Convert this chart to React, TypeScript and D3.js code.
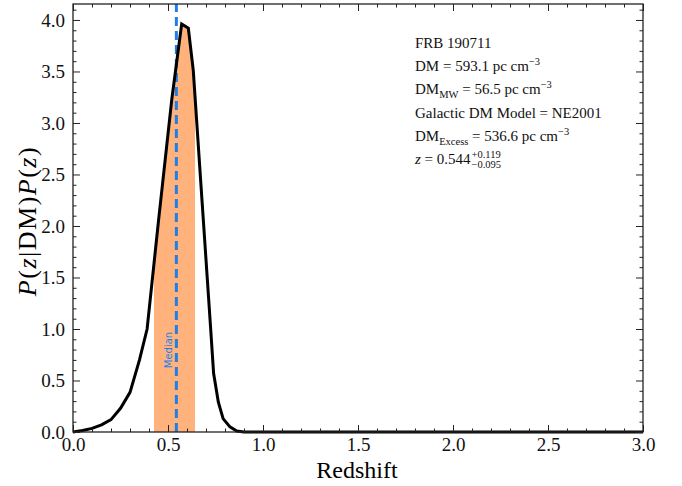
import React, { useEffect, useRef } from 'react';
import * as d3 from 'd3';

// Redshift grid and P(z|DM)P(z) values
const redshift = [0, 0.05, 0.1, 0.15, 0.2, 0.25, 0.3, 0.35, 0.39, 0.45, 0.52, 0.572, 0.607, 0.633, 0.68, 0.725, 0.74, 0.765, 0.79, 0.826, 0.862, 0.9, 1.0, 1.5, 2.0, 2.5, 3.0];
const density = [0, 0.015, 0.035, 0.07, 0.12, 0.23, 0.385, 0.7, 1.0, 2.05, 3.23, 3.96, 3.92, 3.51, 2.22, 0.99, 0.57, 0.29, 0.13, 0.05, 0.01, 0, 0, 0, 0, 0, 0];

const xTicks = [0, 0.5, 1.0, 1.5, 2.0, 2.5, 3.0];
const yTicks = [0, 0.5, 1.0, 1.5, 2.0, 2.5, 3.0, 3.5, 4.0];

const zMedian = 0.544;
const zLow = 0.426;
const zHigh = 0.642;

const SERIF = '"Liberation Serif", "DejaVu Serif", serif';

export default function App() {
  const svgRef = useRef(null);

  useEffect(() => {
    const svg = d3.select(svgRef.current);
    svg.selectAll('*').remove();

    const left = 73, right = 643, top = 4, bottom = 432;
    const x = d3.scaleLinear().domain([0, 3]).range([left, right]);
    const y = d3.scaleLinear().domain([0, 4.155]).range([bottom, top]);

    const pts = redshift.map((z, i) => [z, density[i]]);

    // shaded band under the curve
    svg.append('clipPath').attr('id', 'band')
      .append('rect')
      .attr('x', x(zLow)).attr('y', top)
      .attr('width', x(zHigh) - x(zLow)).attr('height', bottom - top);

    const area = d3.area().x(d => x(d[0])).y0(y(0)).y1(d => y(d[1]));
    svg.append('path')
      .datum(pts)
      .attr('d', area)
      .attr('clip-path', 'url(#band)')
      .attr('fill', '#ffb27c');

    // median
    svg.append('line')
      .attr('x1', x(zMedian)).attr('x2', x(zMedian))
      .attr('y1', bottom).attr('y2', top)
      .attr('stroke', '#1f7fe6')
      .attr('stroke-width', 3)
      .attr('stroke-dasharray', '9,5');

    svg.append('text')
      .attr('transform', `translate(${x(zMedian) - 4},350) rotate(-90)`)
      .attr('text-anchor', 'middle')
      .attr('font-family', '"DejaVu Sans", sans-serif')
      .attr('font-size', 10)
      .attr('fill', '#1f7fe6')
      .text('Median');

    // curve
    const line = d3.line().x(d => x(d[0])).y(d => y(d[1]));
    svg.append('path')
      .datum(pts)
      .attr('d', line)
      .attr('fill', 'none')
      .attr('stroke', 'black')
      .attr('stroke-width', 3)
      .attr('stroke-linejoin', 'miter');

    // axes with inward ticks on all sides
    const minorX = d3.range(0, 3.001, 0.1).filter(v => Math.abs(v * 2 - Math.round(v * 2)) > 1e-6);
    const minorY = d3.range(0, 4.101, 0.1).filter(v => Math.abs(v * 2 - Math.round(v * 2)) > 1e-6);

    const styleAxis = g => {
      g.select('.domain').remove();
      g.selectAll('line').attr('stroke', '#222').attr('stroke-width', 1);
      g.selectAll('text').attr('font-family', SERIF).attr('font-size', 19).attr('fill', '#111');
    };

    svg.append('g').attr('transform', `translate(0,${bottom})`)
      .call(d3.axisBottom(x).tickValues(xTicks).tickSize(-7).tickPadding(6).tickFormat(d3.format('.1f')))
      .call(styleAxis);
    svg.append('g').attr('transform', `translate(0,${bottom})`)
      .call(d3.axisBottom(x).tickValues(minorX).tickSize(-3.5).tickFormat(''))
      .call(styleAxis);
    svg.append('g').attr('transform', `translate(0,${top})`)
      .call(d3.axisTop(x).tickValues(xTicks).tickSize(-7).tickFormat(''))
      .call(styleAxis);
    svg.append('g').attr('transform', `translate(0,${top})`)
      .call(d3.axisTop(x).tickValues(minorX).tickSize(-3.5).tickFormat(''))
      .call(styleAxis);

    svg.append('g').attr('transform', `translate(${left},0)`)
      .call(d3.axisLeft(y).tickValues(yTicks).tickSize(-7).tickPadding(8).tickFormat(d3.format('.1f')))
      .call(styleAxis);
    svg.append('g').attr('transform', `translate(${left},0)`)
      .call(d3.axisLeft(y).tickValues(minorY).tickSize(-3.5).tickFormat(''))
      .call(styleAxis);
    svg.append('g').attr('transform', `translate(${right},0)`)
      .call(d3.axisRight(y).tickValues(yTicks).tickSize(-7).tickFormat(''))
      .call(styleAxis);
    svg.append('g').attr('transform', `translate(${right},0)`)
      .call(d3.axisRight(y).tickValues(minorY).tickSize(-3.5).tickFormat(''))
      .call(styleAxis);

    svg.append('rect')
      .attr('x', left).attr('y', top)
      .attr('width', right - left).attr('height', bottom - top)
      .attr('fill', 'none')
      .attr('stroke', '#222')
      .attr('stroke-width', 1.3);

    // axis labels
    svg.append('text')
      .attr('x', (left + right) / 2 - 1).attr('y', 478)
      .attr('text-anchor', 'middle')
      .attr('font-family', SERIF).attr('font-size', 24)
      .text('Redshift');

    const yl = svg.append('text')
      .attr('transform', 'translate(36,221) rotate(-90)')
      .attr('text-anchor', 'middle')
      .attr('font-family', SERIF).attr('font-size', 26)
      .attr('letter-spacing', 1.5);
    [['P', true], ['(', false], ['z', true], ['|DM)', false], ['P', true], ['(', false], ['z', true], [')', false]]
      .forEach(([t, it]) => yl.append('tspan').attr('font-style', it ? 'italic' : 'normal').text(t));

    // annotation block
    const tx = 415;
    const fs = 15, small = 10.5;
    const info = svg.append('g').attr('font-family', SERIF).attr('font-size', fs).attr('fill', '#111');

    info.append('text').attr('x', tx).attr('y', 48).text('FRB 190711');

    const unitLine = (yy, sub, rest) => {
      const t = info.append('text').attr('x', tx).attr('y', yy);
      t.append('tspan').text('DM');
      if (sub) {
        t.append('tspan').attr('font-size', small).attr('dy', 3.5).text(sub);
        t.append('tspan').attr('dy', -3.5).text(rest);
      } else {
        t.append('tspan').text(rest);
      }
      t.append('tspan').attr('font-size', small).attr('dy', -6).text('\u22123');
    };
    unitLine(71, null, ' = 593.1 pc cm');
    unitLine(94, 'MW', ' = 56.5 pc cm');
    info.append('text').attr('x', tx).attr('y', 118).text('Galactic DM Model = NE2001');
    unitLine(141, 'Excess', ' = 536.6 pc cm');

    const zt = info.append('text').attr('x', tx).attr('y', 164);
    zt.append('tspan').attr('font-style', 'italic').text('z');
    zt.append('tspan').text(' = 0.544');
    const w = zt.node().getComputedTextLength();
    info.append('text').attr('x', tx + w + 1).attr('y', 158).attr('font-size', small).text('+0.119');
    info.append('text').attr('x', tx + w + 1).attr('y', 168).attr('font-size', small).text('\u22120.095');
  }, []);

  return (
    <svg
      ref={svgRef}
      width={682}
      height={486}
      style={{ position: 'fixed', left: 0, top: 0, background: '#fff' }}
    />
  );
}
